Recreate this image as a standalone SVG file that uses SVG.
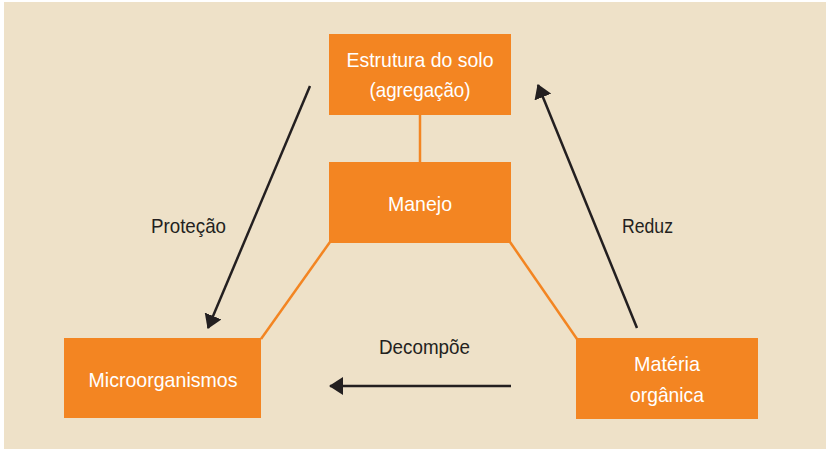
<svg xmlns="http://www.w3.org/2000/svg" width="826" height="449" viewBox="0 0 826 449">
<defs>
<style>
.box{fill:#F38522}
.bt{fill:#FFFFFF;font-family:"Liberation Sans",Arial,sans-serif;font-size:21px;text-anchor:middle}
.lbl{fill:#231F20;font-family:"Liberation Sans",Arial,sans-serif;font-size:21px}
.ol{stroke:#F38522;stroke-width:2.5;fill:none}
.al{stroke:#231F20;stroke-width:2.5;fill:none}
</style>
<marker id="ah" viewBox="0 0 14 18" refX="13" refY="9" markerWidth="14" markerHeight="18" markerUnits="userSpaceOnUse" orient="auto">
<path d="M0,0 L14,9 L0,18 Z" fill="#231F20"/>
</marker>
</defs>
<rect x="0" y="0" width="826" height="449" fill="#FFFFFF"/>
<rect x="4" y="2" width="822" height="447" fill="#EEE1C8"/>
<g id="connectors">
<line class="ol" x1="420" y1="115" x2="420" y2="162"/>
<line class="ol" x1="330" y1="242" x2="261" y2="339"/>
<line class="ol" x1="510" y1="242" x2="577" y2="339"/>
<line class="al" x1="310" y1="86" x2="208" y2="328" marker-end="url(#ah)"/>
<line class="al" x1="637" y1="328" x2="538" y2="85" marker-end="url(#ah)"/>
<line class="al" x1="511" y1="386" x2="330" y2="386" marker-end="url(#ah)"/>
<text class="lbl" x="151" y="233" textLength="75" lengthAdjust="spacingAndGlyphs">Proteção</text>
<text class="lbl" x="622" y="233" textLength="51" lengthAdjust="spacingAndGlyphs">Reduz</text>
<text class="lbl" x="379" y="354" textLength="91" lengthAdjust="spacingAndGlyphs">Decompõe</text>
</g>
<g id="estrutura">
<rect class="box" x="329" y="34" width="182" height="81"/>
<text class="bt" x="420" y="67" textLength="147" lengthAdjust="spacingAndGlyphs">Estrutura do solo</text>
<text class="bt" x="420" y="97" textLength="101" lengthAdjust="spacingAndGlyphs">(agregação)</text>
</g>
<g id="manejo">
<rect class="box" x="329" y="162" width="182" height="81"/>
<text class="bt" x="420" y="211" textLength="64" lengthAdjust="spacingAndGlyphs">Manejo</text>
</g>
<g id="microorganismos">
<rect class="box" x="64" y="338" width="197" height="80"/>
<text class="bt" x="163" y="387" textLength="149" lengthAdjust="spacingAndGlyphs">Microorganismos</text>
</g>
<g id="materia">
<rect class="box" x="576" y="338" width="182" height="81"/>
<text class="bt" x="667" y="371" textLength="66" lengthAdjust="spacingAndGlyphs">Matéria</text>
<text class="bt" x="667" y="402" textLength="74" lengthAdjust="spacingAndGlyphs">orgânica</text>
</g>
</svg>
